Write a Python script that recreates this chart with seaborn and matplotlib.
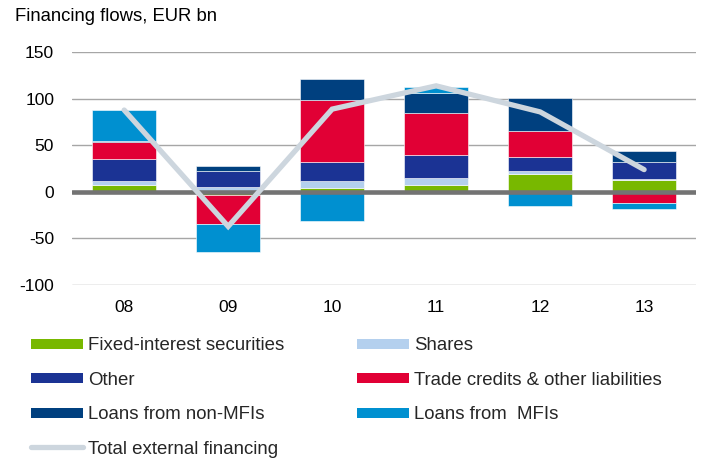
import matplotlib
matplotlib.use('Agg')
import numpy as np
import pandas as pd
import seaborn as sns
import matplotlib.pyplot as plt
from matplotlib.lines import Line2D

# Financing flows, EUR bn
years = ["08", "09", "10", "11", "12", "13"]
fixed_interest = [7, -3, 4, 7, 19, 13]
shares = [4.5, 5, 7.5, 8, 3, 1]
other = [24, 17, 21, 25, 16, 18]
trade_credits = [18.5, -31, 66, 45, 28, -12]
loans_non_mfi = [0.5, 5.5, 22.5, 21, 35, 12]
loans_mfi = [33.5, -30, -31, 7, -15.5, -6.5]
total_external = [88, -37, 89, 114, 86, 24]

series = [
    ("Fixed-interest securities", fixed_interest, "#78b800"),
    ("Shares", shares, "#b4d0ee"),
    ("Other", other, "#1b3394"),
    ("Trade credits & other liabilities", trade_credits, "#e10035"),
    ("Loans from non-MFIs", loans_non_mfi, "#00407f"),
    ("Loans from  MFIs", loans_mfi, "#0090d0"),
]
line_color = "#cdd6de"

sns.set_theme(style="white")
plt.rcParams['font.family'] = ['Liberation Sans', 'DejaVu Sans']

fig = plt.figure(figsize=(7.01, 4.59), dpi=100)
ax = fig.add_axes([0.103, 0.379, 0.890, 0.507])

x = np.arange(len(years))
pos_base = np.zeros(len(years))
neg_base = np.zeros(len(years))
for name, vals, color in series:
    vals = np.array(vals, dtype=float)
    bottom = np.where(vals >= 0, pos_base, neg_base)
    ax.bar(x, vals, bottom=bottom, width=0.615, color=color,
           edgecolor="white", linewidth=0.4, zorder=2)
    pos_base += np.where(vals >= 0, vals, 0)
    neg_base += np.where(vals < 0, vals, 0)

df_line = pd.DataFrame({"x": x, "total": total_external})
sns.lineplot(data=df_line, x="x", y="total", ax=ax, color=line_color,
             linewidth=3.8, zorder=4, solid_capstyle="round",
             solid_joinstyle="miter")

ax.axhline(0, color="#737373", linewidth=3.3, zorder=3)
ax.set_ylim(-100, 150)
ax.set_xlim(-0.5, len(years) - 0.5)
ax.set_yticks([-100, -50, 0, 50, 100, 150])
ax.set_yticklabels(["-100", "-50", "0", "50", "100", "150"])
ax.set_xticks(x)
ax.set_xticklabels(years)
ax.yaxis.grid(True, color="#a6a6a6", linewidth=1.0, zorder=0)
ax.xaxis.grid(False)
ax.set_axisbelow(True)
for s in ax.spines.values():
    s.set_visible(False)
ax.tick_params(axis="both", length=0, labelsize=12.5, colors="#000000")
ax.tick_params(axis="y", pad=13)
ax.tick_params(axis="x", pad=11)
ax.set_xlabel("")
ax.set_ylabel("")

fig.text(0.021, 0.963, "Financing flows, EUR bn", fontsize=13.3,
         ha="left", va="center", color="#000000")

# legend: column-major order so rows read as in the reference
def bar_handle(color):
    return Line2D([0], [0], color=color, linewidth=7.2, solid_capstyle="butt")

handles = [bar_handle(series[0][2]), bar_handle(series[2][2]), bar_handle(series[4][2]),
           Line2D([0], [0], color=line_color, linewidth=3.8, solid_capstyle="round"),
           bar_handle(series[1][2]), bar_handle(series[3][2]), bar_handle(series[5][2])]
labels = [series[0][0], series[2][0], series[4][0], "Total external financing",
          series[1][0], series[3][0], series[5][0]]
fig.legend(handles, labels, loc="upper left", bbox_to_anchor=(0.044, 0.2655),
           ncol=2, frameon=False, fontsize=13.4, handlelength=2.8,
           handletextpad=0.27, labelspacing=0.94, columnspacing=3.9,
           borderaxespad=0, borderpad=0)

fig.savefig("out.png", dpi=100)
